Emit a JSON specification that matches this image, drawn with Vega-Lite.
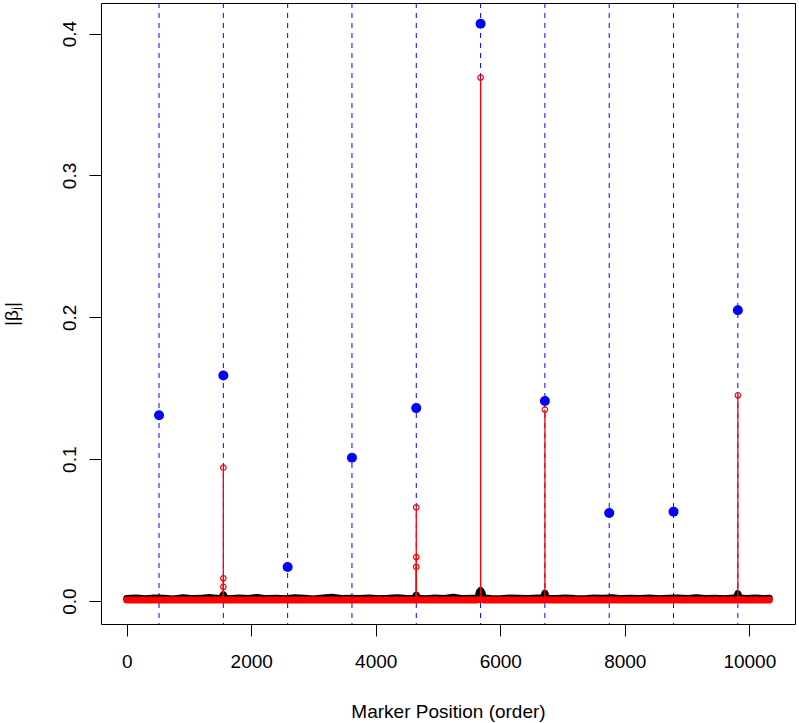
{
  "$schema": "https://vega.github.io/schema/vega-lite/v6.json",
  "width": 694,
  "height": 621,
  "autosize": "none",
  "padding": {"left": 101, "top": 3, "right": 4, "bottom": 99},
  "background": "white",
  "config": {
    "view": {"stroke": "black", "strokeWidth": 1},
    "font": "Liberation Sans",
    "axis": {
      "grid": false, "domain": false, "tickColor": "black", "tickWidth": 1, "tickSize": 12,
      "labelFont": "Liberation Sans", "labelFontSize": 19, "labelColor": "black",
      "titleFont": "Liberation Sans", "titleFontSize": 19, "titleFontWeight": "normal", "titleColor": "black"
    }
  },
  "datasets": {
    "base": [
      {"pos": 0, "black": 0.0018, "red": 0.0008}, {"pos": 150, "black": 0.0021, "red": 0.0008}, {"pos": 300, "black": 0.0016, "red": 0.0008},
      {"pos": 450, "black": 0.0022, "red": 0.0008}, {"pos": 600, "black": 0.0019, "red": 0.0008}, {"pos": 750, "black": 0.0015, "red": 0.0008},
      {"pos": 900, "black": 0.0023, "red": 0.0008}, {"pos": 1050, "black": 0.0017, "red": 0.0008}, {"pos": 1200, "black": 0.002, "red": 0.0008},
      {"pos": 1350, "black": 0.0024, "red": 0.0008}, {"pos": 1500, "black": 0.0018, "red": 0.0008}, {"pos": 1522, "black": 0.0019, "red": 0.0008},
      {"pos": 1552, "black": 0.0045, "red": 0.0009}, {"pos": 1582, "black": 0.002, "red": 0.0008}, {"pos": 1650, "black": 0.0016, "red": 0.0008},
      {"pos": 1800, "black": 0.0022, "red": 0.0008}, {"pos": 1950, "black": 0.0018, "red": 0.0008}, {"pos": 2100, "black": 0.0025, "red": 0.0008},
      {"pos": 2250, "black": 0.0017, "red": 0.0008}, {"pos": 2400, "black": 0.002, "red": 0.0008}, {"pos": 2550, "black": 0.0016, "red": 0.0008},
      {"pos": 2700, "black": 0.0023, "red": 0.0008}, {"pos": 2850, "black": 0.0019, "red": 0.0008}, {"pos": 3000, "black": 0.0015, "red": 0.0008},
      {"pos": 3150, "black": 0.0022, "red": 0.0008}, {"pos": 3300, "black": 0.0026, "red": 0.0008}, {"pos": 3450, "black": 0.0018, "red": 0.0008},
      {"pos": 3600, "black": 0.002, "red": 0.0008}, {"pos": 3750, "black": 0.0017, "red": 0.0008}, {"pos": 3900, "black": 0.0021, "red": 0.0008},
      {"pos": 4050, "black": 0.0016, "red": 0.0008}, {"pos": 4200, "black": 0.0019, "red": 0.0008}, {"pos": 4350, "black": 0.0024, "red": 0.0008},
      {"pos": 4500, "black": 0.0018, "red": 0.0008}, {"pos": 4621, "black": 0.002, "red": 0.0008}, {"pos": 4651, "black": 0.0042, "red": 0.0009},
      {"pos": 4681, "black": 0.0019, "red": 0.0008}, {"pos": 4800, "black": 0.0016, "red": 0.0008}, {"pos": 4950, "black": 0.0021, "red": 0.0008},
      {"pos": 5100, "black": 0.0018, "red": 0.0008}, {"pos": 5250, "black": 0.0027, "red": 0.0008}, {"pos": 5400, "black": 0.0017, "red": 0.0008},
      {"pos": 5550, "black": 0.002, "red": 0.0008}, {"pos": 5640, "black": 0.0022, "red": 0.0008}, {"pos": 5665, "black": 0.0065, "red": 0.001},
      {"pos": 5684, "black": 0.0075, "red": 0.0012}, {"pos": 5705, "black": 0.006, "red": 0.001}, {"pos": 5730, "black": 0.0021, "red": 0.0008},
      {"pos": 5850, "black": 0.0018, "red": 0.0008}, {"pos": 6000, "black": 0.0016, "red": 0.0008}, {"pos": 6150, "black": 0.0022, "red": 0.0008},
      {"pos": 6300, "black": 0.0019, "red": 0.0008}, {"pos": 6450, "black": 0.0017, "red": 0.0008}, {"pos": 6600, "black": 0.0021, "red": 0.0008},
      {"pos": 6687, "black": 0.002, "red": 0.0008}, {"pos": 6717, "black": 0.0055, "red": 0.001}, {"pos": 6747, "black": 0.0019, "red": 0.0008},
      {"pos": 6900, "black": 0.0017, "red": 0.0008}, {"pos": 7050, "black": 0.0022, "red": 0.0008}, {"pos": 7200, "black": 0.0018, "red": 0.0008},
      {"pos": 7350, "black": 0.0016, "red": 0.0008}, {"pos": 7500, "black": 0.0021, "red": 0.0008}, {"pos": 7650, "black": 0.0019, "red": 0.0008},
      {"pos": 7800, "black": 0.0024, "red": 0.0008}, {"pos": 7950, "black": 0.0017, "red": 0.0008}, {"pos": 8100, "black": 0.002, "red": 0.0008},
      {"pos": 8250, "black": 0.0018, "red": 0.0008}, {"pos": 8400, "black": 0.0022, "red": 0.0008}, {"pos": 8550, "black": 0.0016, "red": 0.0008},
      {"pos": 8700, "black": 0.0019, "red": 0.0008}, {"pos": 8850, "black": 0.0021, "red": 0.0008}, {"pos": 9000, "black": 0.0017, "red": 0.0008},
      {"pos": 9150, "black": 0.0023, "red": 0.0008}, {"pos": 9300, "black": 0.0018, "red": 0.0008}, {"pos": 9450, "black": 0.002, "red": 0.0008},
      {"pos": 9600, "black": 0.0016, "red": 0.0008}, {"pos": 9750, "black": 0.0021, "red": 0.0008}, {"pos": 9786, "black": 0.002, "red": 0.0008},
      {"pos": 9816, "black": 0.0052, "red": 0.001}, {"pos": 9846, "black": 0.0021, "red": 0.0008}, {"pos": 9950, "black": 0.0018, "red": 0.0008},
      {"pos": 10100, "black": 0.0022, "red": 0.0008}, {"pos": 10250, "black": 0.0017, "red": 0.0008}, {"pos": 10321, "black": 0.0019, "red": 0.0008}
    ],
    "qtl": [
      {"pos": 519, "beta": 0.131}, {"pos": 1552, "beta": 0.159}, {"pos": 2585, "beta": 0.024},
      {"pos": 3618, "beta": 0.101}, {"pos": 4651, "beta": 0.136}, {"pos": 5684, "beta": 0.407},
      {"pos": 6717, "beta": 0.141}, {"pos": 7750, "beta": 0.062}, {"pos": 8783, "beta": 0.063},
      {"pos": 9816, "beta": 0.205}
    ],
    "est": [
      {"pos": 1552, "beta": 0.094}, {"pos": 1552, "beta": 0.016}, {"pos": 1552, "beta": 0.010},
      {"pos": 4651, "beta": 0.066}, {"pos": 4651, "beta": 0.031}, {"pos": 4651, "beta": 0.024},
      {"pos": 5684, "beta": 0.369}, {"pos": 6717, "beta": 0.135}, {"pos": 9816, "beta": 0.145}
    ]
  },
  "encoding": {
    "x": {
      "field": "pos", "type": "quantitative",
      "scale": {"domain": [-413, 10734], "nice": false, "zero": false},
      "axis": {
        "values": [0, 2000, 4000, 6000, 8000, 10000], "format": "d",
        "labelBaseline": "alphabetic", "labelPadding": 31,
        "title": "Marker Position (order)", "titleBaseline": "alphabetic", "titleY": 93, "titleX": 347, "titleAlign": "center"
      }
    }
  },
  "layer": [
    {
      "data": {"name": "qtl"},
      "mark": {"type": "rule", "color": "#0000ff", "strokeWidth": 1, "strokeDash": [5, 5]},
      "encoding": {}
    },
    {
      "data": {"name": "base"},
      "mark": {"type": "line", "color": "black", "strokeWidth": 7, "strokeCap": "round", "strokeJoin": "round"},
      "encoding": {
        "y": {
          "field": "black", "type": "quantitative",
          "scale": {"domain": [-0.0162, 0.4216], "nice": false, "zero": false},
          "axis": {
            "values": [0, 0.1, 0.2, 0.3, 0.4], "format": ".1f",
            "labelAngle": 270, "labelAlign": "center", "labelBaseline": "alphabetic", "labelPadding": 14,
            "title": "|βⱼ|", "titleAngle": 270, "titleBaseline": "alphabetic", "titleAlign": "center", "titleX": -84, "titleY": 310.5
          }
        }
      }
    },
    {
      "data": {"name": "base"},
      "mark": {"type": "line", "color": "#ff0000", "strokeWidth": 7, "strokeCap": "round", "strokeJoin": "round"},
      "encoding": {"y": {"field": "red", "type": "quantitative"}}
    },
    {
      "data": {"name": "est"},
      "mark": {"type": "rule", "color": "#ff0000", "strokeWidth": 1.3},
      "encoding": {"y": {"field": "beta", "type": "quantitative"}, "y2": {"datum": 0}}
    },
    {
      "data": {"name": "est"},
      "mark": {"type": "point", "filled": false, "color": "#ff0000", "strokeWidth": 1.2, "size": 30, "opacity": 1},
      "encoding": {"y": {"field": "beta", "type": "quantitative"}}
    },
    {
      "data": {"name": "qtl"},
      "mark": {"type": "circle", "color": "#0000ff", "size": 100, "opacity": 1},
      "encoding": {"y": {"field": "beta", "type": "quantitative"}}
    }
  ]
}
